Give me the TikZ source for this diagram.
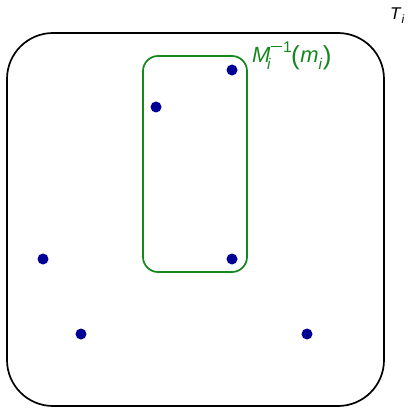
\documentclass[tikz,border=0pt]{standalone}
\usepackage{fontspec}
\setmainfont{Liberation Sans}
\definecolor{grn}{RGB}{20,135,30}
\definecolor{dotc}{RGB}{0,0,150}
\newcommand\mysub[1]{\raisebox{-7pt}{\fontsize{15.5}{16}\selectfont\textit{#1}}}
\newcommand\mysup[1]{\raisebox{10pt}{\fontsize{15.5}{16}\selectfont #1}}
\newcommand\bigpar[1]{\raisebox{-1.5pt}{\fontsize{26}{26}\selectfont #1}}
\begin{document}
\begin{tikzpicture}[x=1pt,y=-1pt,
  pt/.style={circle,fill=dotc,inner sep=0pt,minimum size=11pt},
  lab/.style={inner sep=0pt}]
\useasboundingbox (0,0) rectangle (409,409);
\draw[line width=1.7pt,rounded corners=46pt] (7,33) rectangle (384,406);
\draw[grn,line width=1.7pt,rounded corners=15pt] (143,56) rectangle (247,272);
\node[pt] (p1) at (232,70) {};
\node[pt] (p2) at (156,107) {};
\node[pt] (p3) at (232,259) {};
\node[pt] (p4) at (43,259) {};
\node[pt] (p5) at (81,334) {};
\node[pt] (p6) at (307,334) {};
\node[lab,anchor=base west,font=\fontsize{17}{18}\selectfont] (T) at (390,20) {\textit{T}\raisebox{-4pt}{\fontsize{12}{12}\selectfont\textit{i}}};
\node[lab,text=grn,anchor=base west,font=\fontsize{22}{24}\selectfont] (M) at (252,63) {\textit{M}\rlap{\kern-3.5pt\mysub{i}}\kern0.5pt\raisebox{16pt}{\rule{11pt}{1.3pt}}\kern1pt\mysup{1}\kern-0.5pt\bigpar{(}\kern0.5pt\textit{m}\mysub{i}\kern0.5pt\bigpar{)}};
\end{tikzpicture}
\end{document}
